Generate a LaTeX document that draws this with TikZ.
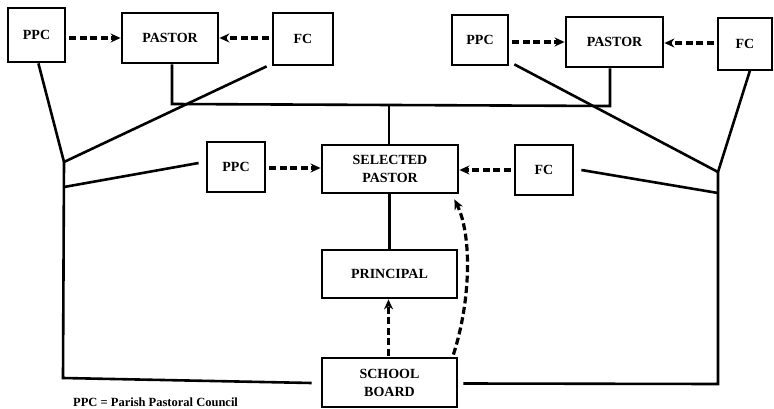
\documentclass[tikz,border=0pt]{standalone}
\usepackage{fontspec}
\setmainfont{Liberation Serif}
\usetikzlibrary{arrows.meta}
\begin{document}
\begin{tikzpicture}[x=1pt,y=-1pt,
  box/.style={draw,line width=2.8pt,rectangle,inner sep=0pt,align=center,
    font=\fontsize{14}{18}\selectfont\bfseries},
  conn/.style={line width=2.6pt},
  darrow/.style={line width=3.2pt,dash pattern=on 7pt off 3.5pt,
    -{Stealth[length=10pt,width=9pt]}}]
\useasboundingbox (0,0) rectangle (774,409);
% top-left group
\node[box,minimum width=57pt,minimum height=54pt] (ppc1) at (36.5,35) {PPC};
\node[box,minimum width=96pt,minimum height=50pt] (pastor1) at (170,38) {PASTOR};
\node[box,minimum width=60pt,minimum height=52pt] (fc1) at (303,39) {FC};
% top-right group
\node[box,minimum width=56pt,minimum height=50pt] (ppc2) at (480,40) {PPC};
\node[box,minimum width=97pt,minimum height=50pt] (pastor2) at (614.5,42) {PASTOR};
\node[box,minimum width=54pt,minimum height=52pt] (fc2) at (745,44) {FC};
% middle row
\node[box,minimum width=58pt,minimum height=50pt] (ppcm) at (236,167) {PPC};
\node[box,minimum width=136pt,minimum height=48pt] (sel) at (390,169) {SELECTED\\PASTOR};
\node[box,minimum width=58pt,minimum height=50pt] (fcm) at (544,170) {FC};
\node[box,minimum width=135pt,minimum height=48pt] (prin) at (389.5,274) {PRINCIPAL};
\node[box,minimum width=135pt,minimum height=49pt] (sb) at (389.5,382.5) {SCHOOL\\BOARD};
% legend
\node[anchor=base west,inner sep=0pt,font=\fontsize{12.5}{14}\selectfont\bfseries] (leg) at (73,406.5) {PPC = Parish Pastoral Council};
% junction coordinates
\coordinate (jl1) at (64,162);
\coordinate (jl2) at (64,187);
\coordinate (jlb) at (63,378);
\coordinate (jr1) at (718,172);
\coordinate (jr2) at (718,193);
\coordinate (jrb) at (718,384);
\coordinate (bar1) at (172,104);
\coordinate (bar2) at (610,106);
\coordinate (barc) at (389,105);
% dashed arrows
\draw[darrow] (ppc1.east) ++(3,3) coordinate (a1) -- (a1 -| pastor1.west);
\draw[darrow] (fc1.west) ++(-3,-1) coordinate (a2) -- (a2 -| pastor1.east);
\draw[darrow] (ppc2.east) ++(3,2) coordinate (a3) -- (a3 -| pastor2.west);
\draw[darrow] (fc2.west) ++(-3,-1) coordinate (a4) -- (a4 -| pastor2.east);
\draw[darrow] (ppcm.east) ++(3,1) coordinate (a5) -- (a5 -| sel.west);
\draw[darrow] (fcm.west) ++(-3,0) coordinate (a6) -- (a6 -| sel.east);
\draw[darrow] (sb.north) ++(-1,-1) coordinate (a7) -- (a7 |- prin.south);
\draw[darrow] (sb.north east) ++(-5,-2) .. controls (471,300) and (472,235) .. ([shift={(-5,5)}]sel.south east);
% pastor bar
\draw[conn] (pastor1.south -| bar1) -- (bar1) -- (bar2) -- (pastor2.south -| bar2);
\draw[conn] (barc) -- (sel.north -| barc);
\draw[conn] (sel.south -| prin.north) -- (prin.north);
% left web
\draw[conn] ([xshift=-28pt]ppc1.south east) -- (jl1);
\draw[conn] ([xshift=-5pt]fc1.south west) -- (jl1);
\draw[conn] ([xshift=-7pt]ppcm.west) ++(0,-4) -- (jl2);
\draw[conn] (jl1) -- (jlb) -- ([xshift=-9pt,yshift=-0.5pt]sb.west);
% right web
\draw[conn] ([shift={(5pt,2pt)}]ppc2.south east) -- (jr1);
\draw[conn] ([shift={(5pt,1pt)}]fc2.south) -- (jr1);
\draw[conn] ([xshift=7pt]fcm.east) -- (jr2);
\draw[conn] (jr1) -- (jrb) -- ([xshift=5pt,yshift=-1pt]sb.east);
\end{tikzpicture}
\end{document}
